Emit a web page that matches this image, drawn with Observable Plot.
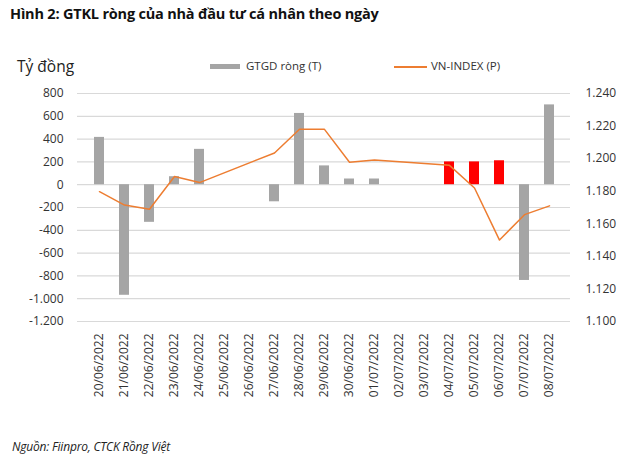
<!DOCTYPE html>
<html>
<head>
<meta charset="utf-8">
<script src="https://cdn.jsdelivr.net/npm/d3@7"></script>
<script src="https://cdn.jsdelivr.net/npm/@observablehq/plot@0.6"></script>
<style>
  html, body { margin: 0; padding: 0; background: #fff; }
  #wrap { position: relative; width: 640px; height: 460px; overflow: hidden; font-family: "Open Sans", "Noto Sans", sans-serif; color: #222; }
  #wrap svg { position: absolute; left: 0; top: 0; }
  .abs { position: absolute; white-space: nowrap; }
  #title { left: 10px; top: 4px; font-size: 14.5px; font-weight: 700; color: #111; letter-spacing: -0.2px; }
  #unit { left: 17px; top: 55px; font-size: 15.5px; color: #222; }
  .leg { top: 58px; font-size: 11.5px; color: #333; }
  #caption { left: 12px; top: 438px; font-size: 12px; font-style: italic; color: #222; letter-spacing: -0.2px; }
</style>
</head>
<body>
<div id="wrap">
  <div id="chart"></div>
  <div id="title" class="abs">Hình 2: GTKL ròng của nhà đầu tư cá nhân theo ngày</div>
  <div id="unit" class="abs">Tỷ đồng</div>
  <div class="abs leg" style="left:210px;"><span style="display:inline-block;width:30px;height:5px;background:#a5a5a5;vertical-align:middle;margin-right:6px;"></span>GTGD ròng (T)</div>
  <div class="abs leg" style="left:394px;"><span style="display:inline-block;width:33px;height:1.5px;background:#ed7d31;vertical-align:middle;margin-right:4px;"></span>VN-INDEX (P)</div>
  <div id="caption" class="abs">Nguồn: Fiinpro, CTCK Rồng Việt</div>
</div>
<script>
// Categories (dates)
const dates = ["20/06/2022","21/06/2022","22/06/2022","23/06/2022","24/06/2022","25/06/2022","26/06/2022","27/06/2022","28/06/2022","29/06/2022","30/06/2022","01/07/2022","02/07/2022","03/07/2022","04/07/2022","05/07/2022","06/07/2022","07/07/2022","08/07/2022"];
// Net trading value (billion VND), null = no trading
const netValue = [415, -970, -330, 70, 310, null, null, -150, 625, 165, 50, 50, null, null, 200, 200, 210, -840, 700];
// Highlighted (red) bars
const highlight = [false,false,false,false,false,false,false,false,false,false,false,false,false,false,true,true,true,false,false];
// VN-INDEX (points), null = no trading
const vnIndex = [1179.7, 1171.5, 1168.9, 1189.0, 1185.3, null, null, 1203.5, 1218.0, 1218.0, 1197.8, 1199.2, null, null, 1195.9, 1182.0, 1150.0, 1165.6, 1171.0];
// Axis ticks
const leftTicks = [800, 600, 400, 200, 0, -200, -400, -600, -800, -1000, -1200];
const rightTicks = [1240, 1220, 1200, 1180, 1160, 1140, 1120, 1100];

const vn = d3.formatLocale({decimal: ",", thousands: ".", grouping: [3], currency: ["", ""], minus: "-"});
const fmt = vn.format(",d");

// map right axis (VN-INDEX) onto left scale
const L0 = -1200, L1 = 800, R0 = 1100, R1 = 1240;
const toLeft = v => L0 + (v - R0) / (R1 - R0) * (L1 - L0);
const fromLeft = v => R0 + (v - L0) / (L1 - L0) * (R1 - R0);

const bars = dates.map((d, i) => ({date: d, value: netValue[i], red: highlight[i]})).filter(d => d.value != null);
const line = dates.map((d, i) => ({date: d, value: vnIndex[i]})).filter(d => d.value != null);

const chart = Plot.plot({
  width: 640,
  height: 460,
  marginTop: 93,
  marginBottom: 139,
  marginLeft: 77,
  marginRight: 70,
  style: {fontFamily: "'Open Sans', 'Noto Sans', sans-serif", fontSize: "11.5px", color: "#333", background: "transparent"},
  x: {domain: dates, paddingInner: 0.62, paddingOuter: 0.31, label: null},
  y: {domain: [L0, L1], label: null},
  marks: [
    Plot.ruleY(leftTicks, {stroke: "#d9d9d9", strokeWidth: 1.2}),
    Plot.barY(bars, {x: "date", y: "value", fill: d => d.red ? "#ff0000" : "#a5a5a5"}),
    Plot.line(line, {x: "date", y: d => toLeft(d.value), stroke: "#ed7d31", strokeWidth: 1.5}),
    Plot.axisY({anchor: "left", ticks: leftTicks, tickFormat: fmt, tickSize: 0, tickPadding: 14, fontSize: 12, label: null}),
    Plot.axisY({anchor: "right", ticks: rightTicks.map(toLeft), tickFormat: d => fmt(Math.round(fromLeft(d))), tickSize: 0, tickPadding: 15, fontSize: 12, label: null}),
    Plot.axisX({tickRotate: -90, tickSize: 0, tickPadding: 12, fontSize: 12, label: null})
  ]
});
document.getElementById("chart").appendChild(chart);
</script>
</body>
</html>
